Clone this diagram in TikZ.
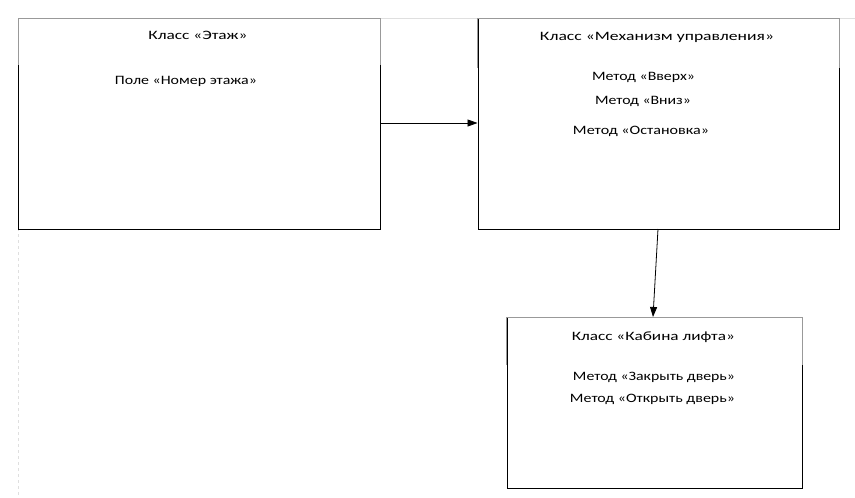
\documentclass[tikz,border=0pt]{standalone}
\usepackage{fontspec}
\setmainfont{Carlito}
\usetikzlibrary{arrows.meta}
\newcommand{\fitw}[2]{\resizebox{#1}{\height}{#2}}
\begin{document}
\begin{tikzpicture}[x=1pt,y=-1pt,
  classbox/.style={draw=black,line width=0.9pt,anchor=north west,inner sep=0pt},
  topedge/.style={draw=gray!80,line width=0.9pt},
  faint/.style={draw=gray!25,line width=0.6pt},
  lbl/.style={inner sep=0pt,anchor=base,font=\fontsize{12.8}{15}\selectfont},
  conn/.style={line width=0.8pt,-{Triangle[length=10pt,width=7pt]}}]
\path[use as bounding box,fill=white] (0,0) rectangle (855,498);
% faint page edges
\coordinate (pg1) at (18,18);
\coordinate (pg2) at (855,18);
\coordinate (pg3) at (18,498);
\draw[faint] (pg1) -- (pg2);
\draw[faint,dashed] (pg1) -- (pg3);
% boxes
\node[classbox,minimum width=362pt,minimum height=211pt] (floor) at (18,18) {};
\node[classbox,minimum width=361pt,minimum height=211pt] (ctrl) at (477.5,18) {};
\node[classbox,minimum width=295pt,minimum height=171pt] (cab) at (506.5,317) {};
\draw[topedge] ([yshift=-47pt]floor.north west) -- (floor.north west) -- (floor.north east) -- ([yshift=-47pt]floor.north east);
\draw[topedge] ([yshift=-50pt]ctrl.north west) -- (ctrl.north west) -- (ctrl.north east) -- ([yshift=-50pt]ctrl.north east);
\draw[topedge] ([yshift=-48pt]cab.north west) -- (cab.north west) -- (cab.north east) -- ([yshift=-48pt]cab.north east);
% texts
\node[lbl] (t1) at (198,39.5) {\fitw{99pt}{Класс «Этаж»}};
\node[lbl] (f1) at (186,84) {\fitw{142pt}{Поле «Номер этажа»}};
\node[lbl] (t2) at (657,40) {\fitw{234pt}{Класс «Механизм управления»}};
\node[lbl] (m1) at (643.5,80.7) {\fitw{103pt}{Метод «Вверх»}};
\node[lbl] (m2) at (643,104) {\fitw{96pt}{Метод «Вниз»}};
\node[lbl] (m3) at (641,134) {\fitw{136pt}{Метод «Остановка»}};
\node[lbl] (t3) at (653.3,340) {\fitw{163pt}{Класс «Кабина лифта»}};
\node[lbl] (c1) at (654,380.7) {\fitw{162pt}{Метод «Закрыть дверь»}};
\node[lbl] (c2) at (652.5,402.7) {\fitw{165pt}{Метод «Открыть дверь»}};
% connectors
\coordinate (a1) at (floor.east |- 0,123);
\coordinate (a2) at (ctrl.west |- 0,123);
\coordinate (b1) at (658,229);
\coordinate (b2) at (653,317);
\draw[conn] (a1) -- (a2);
\draw[conn] (b1) -- (b2);
\end{tikzpicture}
\end{document}
